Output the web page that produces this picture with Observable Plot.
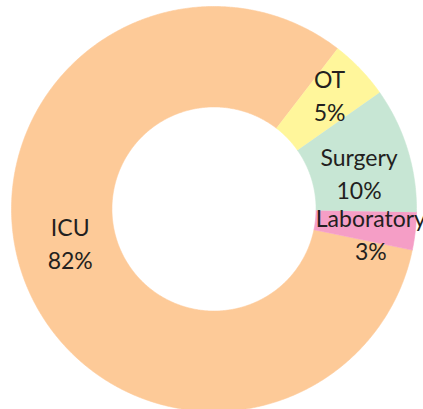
<!DOCTYPE html>
<html><head><meta charset="utf-8">
<script src="https://cdn.jsdelivr.net/npm/d3@7"></script>
<script src="https://cdn.jsdelivr.net/npm/@observablehq/plot@0.6"></script>
<style>html,body{margin:0;padding:0;background:#fff;overflow:hidden}</style>
</head><body><div id="chart"></div>
<script>
const categories = ["ICU", "OT", "Surgery", "Laboratory"];
const values = [82.2, 4.8, 10.0, 3.0];
const colors = ["#fdca98", "#fff69b", "#c7e6d4", "#f59ec6"];

const W = 423, H = 409;
const cx = 213.5, cy = 208.5, R = 202.5, innerRatio = 0.504;
const startDeg = 101.7;
const total = d3.sum(values);
const a0 = startDeg * Math.PI / 180;
const arcs = d3.pie().sort(null).startAngle(a0).endAngle(a0 + 2 * Math.PI)(values);

const points = [];
arcs.forEach((arc, i) => {
  const cat = categories[i];
  const n = Math.max(2, Math.ceil((arc.endAngle - arc.startAngle) / (Math.PI / 360)));
  for (let k = 0; k <= n; k++) {
    const a = arc.startAngle + (arc.endAngle - arc.startAngle) * k / n;
    points.push({cat, x: Math.sin(a), y: Math.cos(a)});
  }
  for (let k = n; k >= 0; k--) {
    const a = arc.startAngle + (arc.endAngle - arc.startAngle) * k / n;
    points.push({cat, x: innerRatio * Math.sin(a), y: innerRatio * Math.cos(a)});
  }
});

// label nudges in pixels (Excel "best fit" placement)
const nudge = {ICU: [-1, -20], OT: [5.5, -10], Surgery: [-0.5, 8], Laboratory: [5.5, 7.5]};
const rMid = (1 + innerRatio) / 2;
const labels = arcs.map((arc, i) => {
  const cat = categories[i];
  const a = (arc.startAngle + arc.endAngle) / 2;
  const [ndx, ndy] = nudge[cat];
  return {
    cat,
    text: `${cat}\n${Math.round(values[i] / total * 100)}%`,
    x: rMid * Math.sin(a) + ndx / R,
    y: rMid * Math.cos(a) - ndy / R
  };
});

const chart = Plot.plot({
  width: W, height: H, margin: 0,
  style: {background: "#fff", overflow: "hidden"},
  x: {domain: [-cx / R, (W - cx) / R], axis: null},
  y: {domain: [-(H - cy) / R, cy / R], axis: null},
  color: {domain: categories, range: colors},
  marks: [
    Plot.line(points, {x: "x", y: "y", z: "cat", fill: "cat", stroke: "cat", strokeWidth: 0.6}),
    Plot.text(labels, {x: "x", y: "y", text: "text", fontSize: 23, fontFamily: "Lato", fill: "#231f20", lineHeight: 1.435})
  ]
});
document.getElementById("chart").append(chart);
</script>
</body></html>
